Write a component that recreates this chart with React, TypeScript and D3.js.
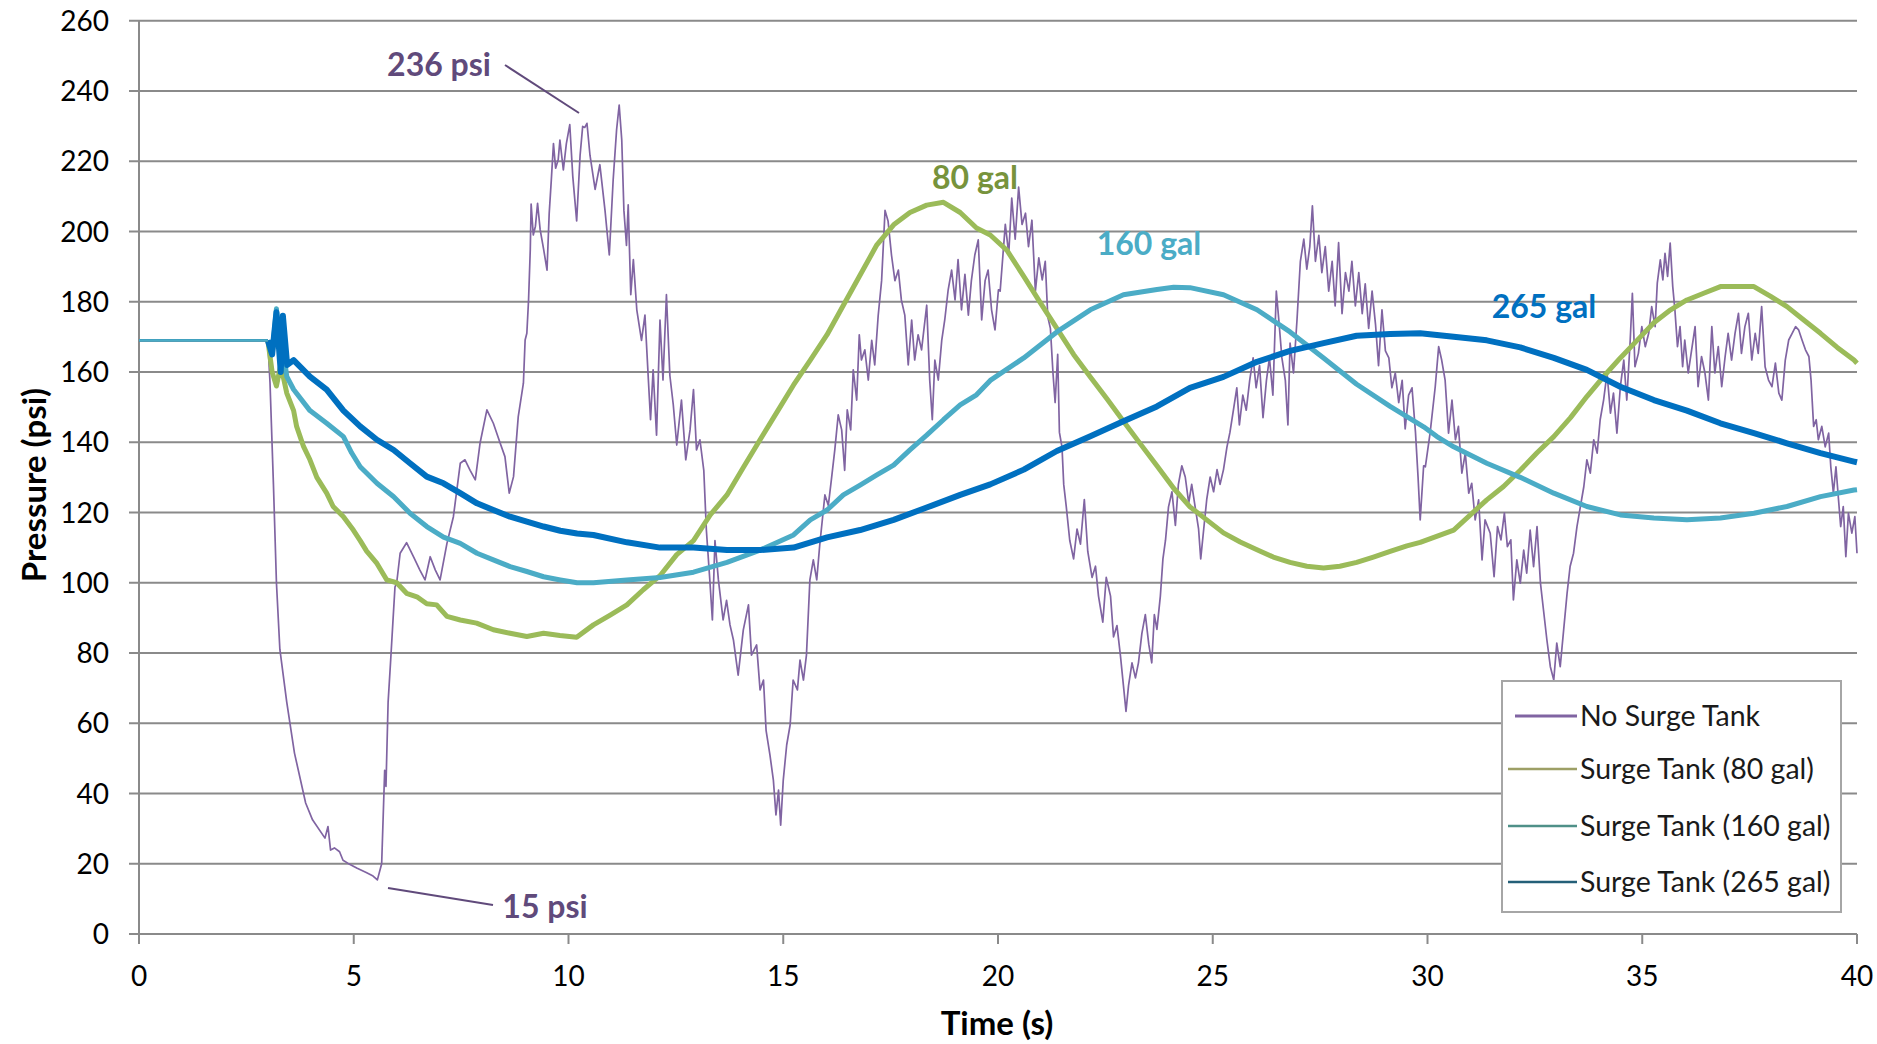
import React from "react"
import * as d3 from "d3"

// time (s), pressure (psi)
const noSurgeTank: [number, number][] = [
  [0,169],[3.0,169],[3.02,164],[3.05,157],[3.13,128],[3.2,100],[3.28,81],[3.44,66],[3.62,51.5],[3.88,37.3],[4.04,32.5],[4.33,27.3],[4.4,30.6],[4.46,23.9],[4.55,24.5],[4.67,23.4],[4.75,21],[4.87,20.1],[5.08,18.7],[5.29,17.5],[5.45,16.5],[5.55,15.4],[5.65,20],[5.72,46.6],[5.75,42],[5.8,66],[5.86,78],[5.91,88.5],[5.96,98.8],[6.0,100],[6.08,108.4],[6.23,111.4],[6.39,107.4],[6.54,103.6],[6.66,100.8],[6.78,107.4],[6.9,103.6],[7.01,100.8],[7.17,111.2],[7.32,118.8],[7.48,134],[7.59,135],[7.71,132],[7.83,129.3],[7.94,139.7],[8.1,149.2],[8.25,145.4],[8.41,139.7],[8.52,135.9],[8.62,125.5],[8.72,130.2],[8.83,147.3],[8.95,156.8],[8.99,169.1],[9.03,171],[9.07,180.5],[9.11,194.8],[9.13,207.8],[9.18,199],[9.23,201.5],[9.28,208],[9.34,200.5],[9.42,195],[9.5,189],[9.55,205],[9.6,214.7],[9.65,225],[9.7,218],[9.76,220.4],[9.8,226],[9.88,217.5],[9.95,225],[10.03,230.4],[10.1,215.6],[10.19,203],[10.27,221.7],[10.33,229.9],[10.38,229.6],[10.43,230.8],[10.5,221.7],[10.62,212],[10.73,219],[10.85,206],[10.95,193.3],[11.04,214.7],[11.12,229],[11.18,236],[11.24,226],[11.29,206],[11.35,196],[11.39,207.6],[11.45,182],[11.51,192],[11.59,177.7],[11.7,169],[11.78,176.2],[11.86,157.7],[11.91,146.4],[11.97,160.6],[12.05,142],[12.13,174.8],[12.2,157.7],[12.28,182],[12.36,159],[12.44,150.6],[12.52,139.2],[12.63,152],[12.73,135],[12.83,143.5],[12.91,155],[12.98,137.8],[13.06,140.7],[13.15,132],[13.21,115],[13.29,100.8],[13.35,89.4],[13.41,112],[13.49,100.8],[13.6,89.4],[13.68,95],[13.76,88],[13.84,83.7],[13.95,73.7],[14.07,86.6],[14.19,93.7],[14.26,79.4],[14.38,82.3],[14.46,69.5],[14.54,72.3],[14.6,58],[14.69,51],[14.77,43.8],[14.83,33.9],[14.89,41],[14.94,31],[15.0,43.8],[15.08,53.8],[15.16,59.5],[15.23,72.3],[15.33,69.5],[15.39,78],[15.47,72.3],[15.54,79.4],[15.62,100.8],[15.7,106.5],[15.78,100.8],[15.85,110.8],[15.97,125],[16.05,122],[16.12,129.3],[16.2,137.8],[16.28,147.8],[16.36,143.5],[16.43,132],[16.49,149.2],[16.57,143.5],[16.63,160.6],[16.71,152],[16.77,170.6],[16.82,163.4],[16.9,166.3],[16.98,157.7],[17.06,169],[17.13,162],[17.21,176],[17.29,186],[17.37,206],[17.44,203],[17.52,193.3],[17.6,186],[17.68,189],[17.75,180.5],[17.83,176.2],[17.91,162],[17.99,174.8],[18.06,163.4],[18.14,170.6],[18.22,166.3],[18.34,179],[18.41,157.7],[18.47,146.4],[18.53,163.4],[18.61,157.7],[18.69,169],[18.76,174.8],[18.84,183.4],[18.92,189],[19.0,180.5],[19.07,192],[19.15,177.7],[19.23,187.8],[19.31,176.2],[19.38,186],[19.46,193.3],[19.54,197.6],[19.62,174.8],[19.7,186],[19.77,189],[19.85,177.7],[19.93,172],[20.01,183.4],[20.05,183],[20.17,202],[20.25,193.6],[20.32,209.5],[20.4,197.8],[20.48,212.6],[20.56,202],[20.64,205.2],[20.71,195.7],[20.79,203.2],[20.87,183],[20.95,192.5],[21.03,186.2],[21.1,191.5],[21.16,175.6],[21.22,172.4],[21.28,159.7],[21.33,151.3],[21.39,165],[21.43,142.8],[21.49,138.6],[21.53,128],[21.59,121.6],[21.67,112.1],[21.76,106.8],[21.84,115.3],[21.92,111],[22.01,123.7],[22.09,108.9],[22.19,101.5],[22.27,104.7],[22.34,96.2],[22.44,88.8],[22.52,101.5],[22.62,96.2],[22.69,84.6],[22.77,87.8],[22.85,79.3],[22.92,70.8],[22.98,63.4],[23.04,70.8],[23.12,77.2],[23.2,72.9],[23.27,77.2],[23.35,85.6],[23.43,90.9],[23.51,82.5],[23.58,77.2],[23.64,90.9],[23.7,86.7],[23.78,96.2],[23.84,106.8],[23.9,112.1],[23.97,121.6],[24.05,125.9],[24.13,116.3],[24.2,128],[24.28,133.3],[24.36,130.1],[24.44,122.7],[24.51,128],[24.59,121.6],[24.67,115.3],[24.72,106.8],[24.79,115.3],[24.86,123.7],[24.94,130.1],[25.02,125.9],[25.1,132.2],[25.17,128],[25.25,132.2],[25.33,138.6],[25.4,142.8],[25.48,149.1],[25.56,155.5],[25.62,144.9],[25.7,153.4],[25.78,149.1],[25.86,157.6],[25.94,164],[26.01,155.5],[26.09,161.8],[26.17,147],[26.25,157.6],[26.32,164],[26.4,153.4],[26.48,183],[26.54,174.5],[26.61,164],[26.69,157.6],[26.75,144.9],[26.8,168.2],[26.88,159.7],[26.96,174.5],[27.04,191.5],[27.12,197.8],[27.19,189.3],[27.26,195.7],[27.32,207.3],[27.39,191.5],[27.47,198.9],[27.54,188.3],[27.62,195.7],[27.7,183],[27.78,191.5],[27.85,178.8],[27.93,196.8],[28.01,176.6],[28.09,188.3],[28.17,183],[28.24,191.5],[28.32,178.8],[28.4,188.3],[28.48,176.6],[28.55,185.1],[28.63,172.4],[28.71,183],[28.79,173.5],[28.86,161.8],[28.94,177.7],[29.02,166],[29.1,164],[29.17,155.5],[29.25,159.7],[29.33,151.3],[29.41,157.6],[29.48,143.8],[29.56,153.4],[29.64,155.5],[29.72,142.8],[29.78,130.1],[29.83,117.9],[29.91,133.3],[29.95,133],[30.06,142.6],[30.18,155.8],[30.26,167.2],[30.33,163.4],[30.41,157.7],[30.49,142.6],[30.57,152],[30.65,140.7],[30.72,144.5],[30.8,131.2],[30.88,136.9],[30.96,125.5],[31.03,128.3],[31.11,117.9],[31.19,123.6],[31.27,106.5],[31.34,117.9],[31.46,114.1],[31.55,101.7],[31.63,116],[31.71,112.2],[31.79,119.8],[31.86,110.3],[31.94,112.2],[32.0,95.1],[32.08,106.5],[32.16,99.9],[32.24,109.3],[32.31,102.7],[32.39,115],[32.47,104.6],[32.55,116],[32.63,99.9],[32.7,92.3],[32.78,83.7],[32.86,76.1],[32.94,72.3],[33.01,82.8],[33.09,76.1],[33.17,86.6],[33.25,97],[33.32,104.6],[33.4,108.4],[33.48,116],[33.56,121.7],[33.64,127.4],[33.71,135],[33.79,131.2],[33.87,140.7],[33.95,136.9],[34.02,146.4],[34.1,152],[34.18,159.7],[34.26,148.3],[34.33,154],[34.41,142.6],[34.49,155.8],[34.57,163.4],[34.64,152],[34.72,169.1],[34.77,182.4],[34.83,161.5],[34.91,165.3],[34.99,172.9],[35.07,167.2],[35.15,171],[35.22,178.6],[35.3,172.9],[35.35,185.3],[35.42,191.9],[35.48,186.2],[35.53,193.8],[35.59,187.2],[35.65,196.7],[35.71,184.3],[35.76,177.7],[35.82,167.2],[35.88,172.9],[35.94,161.5],[35.99,169.1],[36.07,159.7],[36.15,166.3],[36.23,172.9],[36.3,155.8],[36.38,164.4],[36.46,159.7],[36.54,152],[36.62,172.9],[36.69,159.7],[36.77,167.2],[36.85,155.8],[36.93,164.4],[37.0,171],[37.08,163.4],[37.16,171],[37.24,176.7],[37.31,165.3],[37.39,172.9],[37.47,176.7],[37.55,163.4],[37.63,171],[37.7,165.3],[37.78,178.6],[37.86,161.5],[37.94,157.7],[38.02,155.8],[38.1,162.5],[38.18,154],[38.25,152],[38.33,163.4],[38.41,169.1],[38.49,171],[38.57,172.9],[38.64,172],[38.72,169.1],[38.8,166.3],[38.88,164.4],[38.93,157.7],[38.99,144.5],[39.05,146.4],[39.1,140.7],[39.18,144.5],[39.26,138.7],[39.34,142.6],[39.39,133],[39.45,125.5],[39.51,133],[39.57,123.6],[39.62,116],[39.68,121.7],[39.74,107.4],[39.8,119.8],[39.88,114.1],[39.95,118.8],[40.0,108.4],
]

const surge80: [number, number][] = [
  [0,169],[3.0,169],[3.1,160],[3.2,156],[3.3,162],[3.44,154],[3.6,149],[3.67,144.5],[3.83,138.8],[3.98,135],[4.14,130],[4.37,125.5],[4.52,121.7],[4.76,118.8],[4.99,115],[5.15,112],[5.3,109],[5.54,105.5],[5.77,100.8],[6.0,100],[6.23,97],[6.47,96],[6.7,94],[6.93,93.7],[7.17,90.4],[7.48,89.4],[7.86,88.5],[8.25,86.6],[8.64,85.6],[9.03,84.7],[9.42,85.6],[9.8,85],[10.19,84.5],[10.58,88],[10.97,90.8],[11.36,93.7],[11.74,98],[12.13,102],[12.52,108],[12.91,112],[13.3,119.3],[13.69,125],[14.07,132.8],[14.46,140.7],[14.85,148.5],[15.24,156.3],[15.63,163.4],[16.02,170.6],[16.4,179],[16.79,187.6],[17.18,196.2],[17.57,201.9],[17.95,205.4],[18.34,207.5],[18.73,208.3],[19.12,205.4],[19.5,201],[19.82,199],[20.21,194.6],[20.6,187.2],[20.98,179.8],[21.37,172.4],[21.76,165],[22.15,158.6],[22.54,152.3],[22.92,146],[23.31,139.6],[23.7,133.3],[24.09,126.9],[24.47,121.6],[24.86,117.9],[25.25,114.2],[25.64,111.6],[26.03,109.4],[26.41,107.3],[26.8,105.8],[27.19,104.7],[27.58,104.2],[27.96,104.7],[28.35,105.8],[28.74,107.3],[29.13,108.9],[29.52,110.5],[29.83,111.5],[30.61,115],[31.38,123.6],[31.77,127.4],[32.16,132],[32.55,137],[32.94,141.6],[33.33,147],[33.71,153],[34.1,158.7],[34.49,164],[34.88,169],[35.27,174],[35.66,177.7],[36.04,180.5],[36.43,182.4],[36.82,184.3],[37.21,184.3],[37.6,184.3],[37.99,181.5],[38.37,178.6],[38.76,174.8],[39.15,171],[39.54,167],[39.93,163.4],[40,162.5],
]

const surge160: [number, number][] = [
  [0,169],[3.0,169],[3.1,165],[3.2,178],[3.25,168],[3.3,172],[3.44,158.7],[3.6,155],[3.98,149],[4.37,145.4],[4.76,141.6],[4.95,137],[5.15,133],[5.54,128.3],[5.93,124.5],[6.31,119.8],[6.7,116],[7.09,113],[7.48,111.2],[7.87,108.4],[8.25,106.5],[8.64,104.6],[9.03,103.2],[9.42,101.7],[9.81,100.8],[10.2,100],[10.58,100],[11.36,100.8],[12.13,101.5],[12.91,103],[13.69,105.8],[14.46,109.3],[15.24,113.6],[15.63,117.9],[16.02,120.7],[16.4,125],[16.79,127.8],[17.18,130.7],[17.57,133.5],[17.95,137.8],[18.34,142],[18.73,146.4],[19.12,150.6],[19.5,153.5],[19.82,157.6],[20.6,164],[21.37,171.4],[22.15,177.7],[22.92,182],[23.7,183.5],[24.09,184.1],[24.47,184],[25.25,182],[26.03,177.7],[26.8,171.4],[27.58,164],[28.35,156.5],[29.13,150.2],[29.91,144.4],[30.22,141.6],[30.61,138.7],[31.38,134],[32.16,130],[32.94,125.5],[33.71,121.7],[34.49,119.3],[35.27,118.4],[36.04,117.9],[36.82,118.4],[37.6,119.8],[38.37,121.7],[39.15,124.5],[39.93,126.4],[40,126.5],
]

const surge265: [number, number][] = [
  [0,169],[3.0,169],[3.1,165],[3.2,177],[3.3,160],[3.35,176],[3.45,162],[3.6,163.4],[3.98,158.7],[4.37,155],[4.76,149],[5.15,144.5],[5.54,140.7],[5.93,137.8],[6.31,134],[6.7,130.2],[7.09,128.3],[7.48,125.5],[7.87,122.6],[8.25,120.7],[8.64,118.8],[9.03,117.4],[9.42,116],[9.81,114.8],[10.2,114],[10.58,113.6],[11.36,111.5],[12.13,110],[12.91,110],[13.69,109.3],[14.46,109.3],[15.24,110],[16.02,112.9],[16.79,115],[17.57,117.9],[18.34,121.4],[19.12,125],[19.82,128],[20.6,132.2],[21.37,137.5],[22.15,141.7],[22.92,146],[23.7,150.2],[24.47,155.5],[25.25,158.6],[26.03,162.9],[26.8,166],[27.58,168.2],[28.35,170.3],[29.13,170.8],[29.83,171],[30.61,170],[31.38,169],[32.16,167],[32.94,164],[33.71,160.6],[34.49,155.8],[35.27,152],[36.04,149],[36.82,145.4],[37.6,142.6],[38.37,139.7],[39.15,136.9],[39.93,134.5],[40,134.3],
]

const xTicks = [0, 5, 10, 15, 20, 25, 30, 35, 40]
const yTicks = [0, 20, 40, 60, 80, 100, 120, 140, 160, 180, 200, 220, 240, 260]
const seriesNames = ["No Surge Tank", "Surge Tank (80 gal)", "Surge Tank (160 gal)", "Surge Tank (265 gal)"]
const valveClose = 3 // s, end of the steady state

const W = 1877
const H = 1044
const left = 139
const right = 1857
const top = 20.7
const bottom = 934
const font = "Lato, 'Open Sans', sans-serif"

const x = d3.scaleLinear().domain([0, 40]).range([left, right])
const y = d3.scaleLinear().domain([0, 260]).range([bottom, top])
const line = d3.line<[number, number]>().x(d => x(d[0])).y(d => y(d[1]))

// the measured traces are noisy bands, so the smooth ones get a heavier stroke
const series = [
  { data: noSurgeTank, color: "#8064a2", width: 1.7 },
  { data: surge80, color: "#9bbb59", width: 5 },
  { data: surge160, color: "#4bacc6", width: 5 },
  { data: surge265, color: "#0070c0", width: 6 },
]
const legendColors = ["#8064a2", "#9d9f66", "#4f9088", "#245f78"]
// steady-state parts drawn thin, light blue ends on top as in the original
const steadyOrder = [0, 1, 3, 2]

export default function App() {
  return (
    <svg width={W} height={H} style={{ position: "absolute", left: 0, top: 0, background: "#fff" }} fontFamily={font}>
      {yTicks.map(t => (
        <g key={t}>
          <line x1={left - 10} x2={right} y1={y(t)} y2={y(t)} stroke="#8a8a8a" strokeWidth={2} />
          <text x={109} y={y(t)} dy="0.36em" textAnchor="end" fontSize={28} fill="#000">{t}</text>
        </g>
      ))}
      <line x1={left} x2={left} y1={top} y2={bottom + 10} stroke="#8a8a8a" strokeWidth={2} />
      {xTicks.map(t => (
        <g key={t}>
          <line x1={x(t)} x2={x(t)} y1={bottom} y2={bottom + 10} stroke="#8a8a8a" strokeWidth={2} />
          <text x={x(t)} y={976} dy="0.36em" textAnchor="middle" fontSize={28} fill="#000">{t}</text>
        </g>
      ))}

      {series.map((s, i) => (
        <path key={i} d={line(s.data.filter(d => d[0] >= valveClose)) || ""} fill="none" stroke={s.color} strokeWidth={s.width} strokeLinejoin="round" />
      ))}
      {steadyOrder.map(i => (
        <path key={"s" + i} d={line(series[i].data.filter(d => d[0] <= valveClose)) || ""} fill="none" stroke={series[i].color} strokeWidth={2.2} />
      ))}

      {/* annotations */}
      <line x1={505} y1={65} x2={579} y2={113} stroke="#604a7b" strokeWidth={2} />
      <text x={439} y={76} textAnchor="middle" fontSize={32} fontWeight="bold" fill="#604a7b">236 psi</text>
      <line x1={388} y1={888} x2={493} y2={905} stroke="#604a7b" strokeWidth={2} />
      <text x={545} y={918} textAnchor="middle" fontSize={32} fontWeight="bold" fill="#604a7b">15 psi</text>
      <text x={975} y={189} textAnchor="middle" fontSize={32} fontWeight="bold" fill="#77933c">80 gal</text>
      <text x={1149} y={255} textAnchor="middle" fontSize={32} fontWeight="bold" fill="#4bacc6">160 gal</text>
      <text x={1544} y={318} textAnchor="middle" fontSize={32} fontWeight="bold" fill="#0070c0">265 gal</text>

      {/* axis titles */}
      <text x={997} y={1035} textAnchor="middle" fontSize={33} fontWeight="bold" fill="#000">Time (s)</text>
      <text transform="translate(34,485) rotate(-90)" dy="0.36em" textAnchor="middle" fontSize={33} fontWeight="bold" fill="#000">Pressure (psi)</text>

      {/* legend */}
      <rect x={1502} y={681} width={339} height={231} fill="#fff" stroke="#a6a6a6" strokeWidth={2} />
      {seriesNames.map((name, i) => {
        const cy = [716, 769, 826, 882][i]
        return (
          <g key={name}>
            <line x1={i === 0 ? 1515 : 1508} x2={1577} y1={cy} y2={cy} stroke={legendColors[i]} strokeWidth={i === 0 ? 3 : 2.5} />
            <text x={1580} y={cy} dy="0.36em" fontSize={28.5} fill="#1a1a1a">{name}</text>
          </g>
        )
      })}
    </svg>
  )
}
